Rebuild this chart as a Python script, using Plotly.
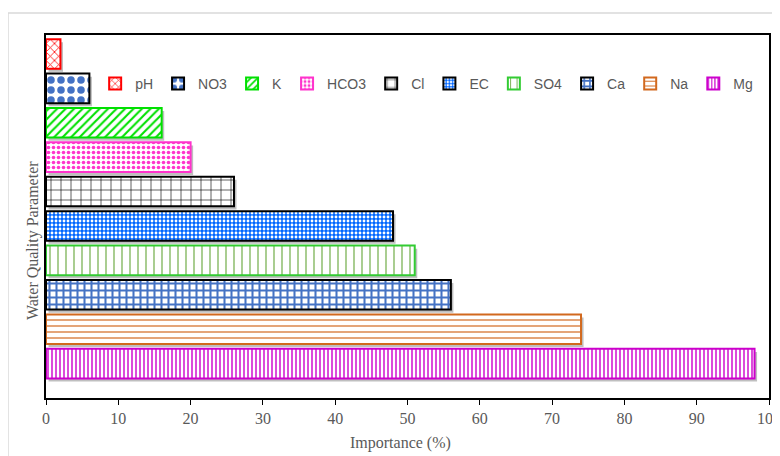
import plotly.graph_objects as go

params = ["pH", "NO3", "K", "HCO3", "Cl", "EC", "SO4", "Ca", "Na", "Mg"]
importance = [2, 6, 16, 20, 26, 48, 51, 56, 74, 98]
line_colors = ["#ff0000", "#000000", "#00e000", "#ff33cc", "#000000",
               "#000000", "#33cc33", "#000000", "#d2691e", "#cc00cc"]
fg_colors = ["#ff0000", "#4472c4", "#00e000", "#ff33cc", "#000000",
             "#ffffff", "#70ad47", "#4472c4", "#d2691e", "#cc00cc"]
bg_colors = ["#ffffff", "#ffffff", "#ffffff", "#ffffff", "#ffffff",
             "#0066ff", "#ffffff", "#ffffff", "#ffffff", "#ffffff"]
shapes_pat = ["x", ".", "/", ".", "+", ".", "|", "+", "-", "|"]
sizes_pat = [6, 10, 6, 5, 10, 4, 8, 7, 6, 4]
solid_pat = [0.25, 0.45, 0.35, 0.4, 0.12, 0.4, 0.15, 0.5, 0.2, 0.35]

y_pos = list(range(len(params) - 1, -1, -1))  # pH at top
BAR_W = 0.86

fig = go.Figure()
# drop shadows
for i, p in enumerate(params):
    fig.add_trace(go.Bar(
        y=[y_pos[i]], x=[importance[i]], base=0.35, orientation="h",
        width=BAR_W, offset=-BAR_W / 2 - 0.09, showlegend=False, hoverinfo="skip",
        marker=dict(color="rgba(0,0,0,0.25)", line=dict(width=0)),
    ))
for i, p in enumerate(params):
    fig.add_trace(go.Bar(
        y=[y_pos[i]], x=[importance[i]], orientation="h", name=p,
        width=BAR_W,
        marker=dict(
            color=bg_colors[i],
            line=dict(color=line_colors[i], width=2),
            pattern=dict(shape=shapes_pat[i], fgcolor=fg_colors[i],
                         bgcolor=bg_colors[i], size=sizes_pat[i],
                         solidity=solid_pat[i], fillmode="replace"),
        ),
    ))

# The page adds an 8px body margin, so the figure is 8px smaller than the window.
fig.update_layout(
    width=772, height=448,
    paper_bgcolor="white", plot_bgcolor="white",
    margin=dict(l=38, r=11, t=27, b=58),
    barmode="overlay",
    showlegend=True,
    legend=dict(orientation="h", x=0.985, y=0.865, xanchor="right", yanchor="middle",
                font=dict(family="Liberation Sans Narrow, Liberation Sans", size=14,
                          color="#595959"),
                bgcolor="rgba(0,0,0,0)", itemwidth=30, traceorder="normal",
                tracegroupgap=0),
    xaxis=dict(range=[0, 100], tickvals=list(range(0, 101, 10)),
               automargin=False, ticklabeloverflow="allow",
               showgrid=False, zeroline=False,
               showline=True, linecolor="black", linewidth=2, mirror=True,
               ticks="outside", ticklen=5, tickcolor="black",
               tickfont=dict(family="Liberation Serif", size=16, color="#595959"),
               title=dict(text="")),
    yaxis=dict(range=[-1.0, 9.55], showticklabels=False, showgrid=False, zeroline=False,
               automargin=False,
               showline=True, linecolor="black", linewidth=2, mirror=True,
               ticks=""),
    annotations=[
        dict(text="Importance (%)", xref="paper", yref="paper", x=0.49, y=-0.124,
             xanchor="center", yanchor="middle", showarrow=False,
             font=dict(family="Liberation Serif", size=16, color="#595959")),
        dict(text="Water Quality Parameter", xref="paper", yref="paper", x=-0.018, y=0.435,
             xanchor="center", yanchor="middle", showarrow=False, textangle=-90,
             font=dict(family="Liberation Serif", size=16, color="#595959")),
    ],
    shapes=[
        dict(type="line", xref="paper", yref="paper", x0=-0.0526, x1=-0.0526,
             y0=-0.2, y1=1.0606, line=dict(color="#d9d9d9", width=1.5)),
        dict(type="line", xref="paper", yref="paper", x0=-0.0526, x1=1.03,
             y0=1.0606, y1=1.0606, line=dict(color="#d9d9d9", width=1.5)),
    ],
)

fig.write_html("out.html")
